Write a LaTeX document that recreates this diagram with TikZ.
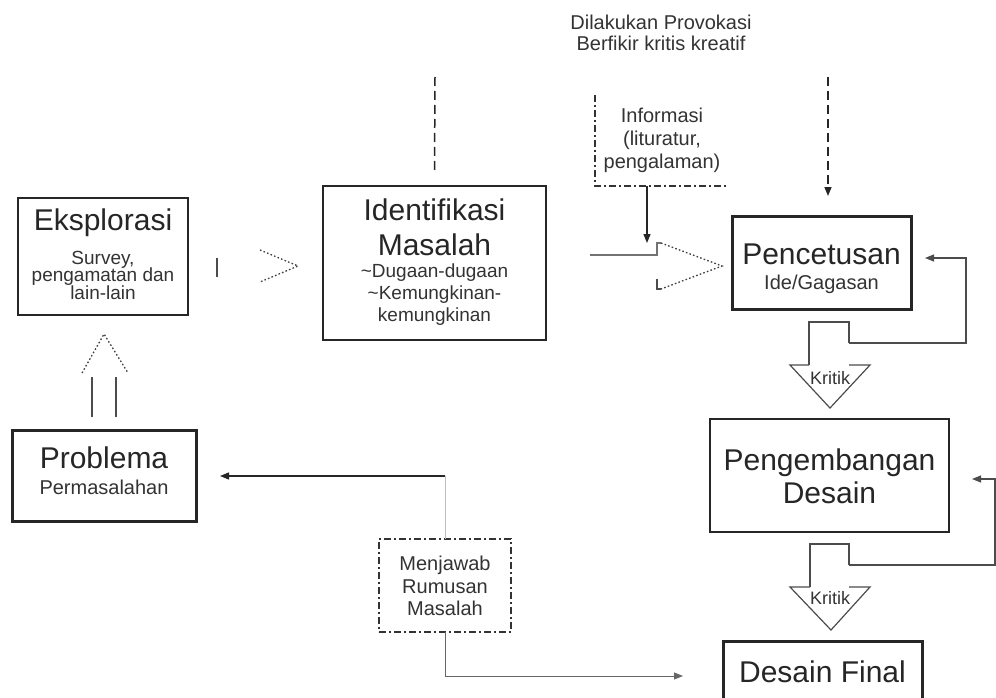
\documentclass[tikz,border=0pt]{standalone}
\usepackage{fontspec}
\setmainfont{Liberation Sans}
\usetikzlibrary{arrows.meta}
\newcommand\mytightls{\lineskiplimit -20pt\relax}
\begin{document}
\begin{tikzpicture}[x=1pt,y=-1pt,
 box/.style={draw=black!85, line width=2pt, inner sep=0pt, outer sep=0pt},
 boxthick/.style={box, line width=3pt},
 bigtxt/.style={font=\fontsize{30}{35}\selectfont\mytightls, inner sep=0pt, align=center, text=black!85},
 smalltxt/.style={font=\fontsize{19}{22}\selectfont\mytightls, inner sep=0pt, align=center, text=black!80},
 kritik/.style={font=\fontsize{18}{20}\selectfont, inner sep=0pt, text=black!80},
 conn/.style={draw=black!85, line width=1.3pt, -{Triangle[length=9pt,width=7pt]}},
 thinline/.style={draw=black!70, line width=1.2pt},
 faint/.style={draw=black!25, line width=1pt},
 dashline/.style={draw=black!85, line width=1.5pt, dash pattern=on 9pt off 5pt},
 dashdotline/.style={draw=black!80, line width=1.2pt, dash pattern=on 7pt off 3pt on 2pt off 3pt},
 dotline/.style={draw=black!75, line width=1.3pt, dash pattern=on 1.6pt off 2.2pt},
]
\clip (0,0) rectangle (996,698);
\fill[white] (0,0) rectangle (996,698);

% boxes
\node[box, minimum width=170pt, minimum height=117pt] (eks) at (103,256.5) {};
\node[bigtxt] (eksT) at (103,223) {Eksplorasi};
\node[smalltxt, font=\fontsize{19}{17.5}\selectfont\mytightls] (eksS) at (103,275) {Survey,\\pengamatan dan\\lain-lain};

\node[box, minimum width=223pt, minimum height=154pt] (ide) at (434.5,263) {};
\node[bigtxt] (ideT) at (434.5,227.5) {Identifikasi\\Masalah};
\node[smalltxt] (ideS) at (434.5,295) {\textasciitilde Dugaan-dugaan\\\textasciitilde Kemungkinan-\\kemungkinan};

\node[boxthick, minimum width=184pt, minimum height=91pt] (prob) at (104,475.5) {};
\node[bigtxt] (probT) at (104,458) {Problema};
\node[smalltxt, font=\fontsize{20}{22}\selectfont] (probS) at (104,487) {Permasalahan};

\node[boxthick, minimum width=179pt, minimum height=93pt] (pen) at (821.5,262.5) {};
\node[bigtxt] (penT) at (821.5,254) {Pencetusan};
\node[smalltxt, font=\fontsize{20}{22}\selectfont] (penS) at (821.5,284) {Ide/Gagasan};

\node[box, minimum width=239pt, minimum height=113pt] (peng) at (829.5,475.5) {};
\node[bigtxt, font=\fontsize{30}{33}\selectfont\mytightls] (pengT) at (829.5,476.5) {Pengembangan\\Desain};

\node[boxthick, minimum width=199pt, minimum height=70pt] (fin) at (822.5,676) {};
\node[bigtxt] (finT) at (822.5,672) {Desain Final};

\node[smalltxt, font=\fontsize{20}{21}\selectfont\mytightls] (prov) at (661,33) {Dilakukan Provokasi\\Berfikir kritis kreatif};

\node[inner sep=0pt, outer sep=0pt, minimum width=133pt, minimum height=91pt] (info) at (661.5,140.5) {};
\node[smalltxt, font=\fontsize{20}{23}\selectfont\mytightls] (infoT) at (662,140) {Informasi\\(lituratur,\\pengalaman)};
\draw[dashdotline] (info.north west) -- (info.south west) -- (info.south east);

\node[dashdotline, draw, inner sep=0pt, outer sep=0pt, minimum width=132pt, minimum height=93pt] (menj) at (445,585.5) {};
\node[smalltxt, font=\fontsize{20}{22.5}\selectfont\mytightls] (menjT) at (445,586) {Menjawab\\Rumusan\\Masalah};

% dashed lines from top
\coordinate (d1) at (435,77);
\draw[dashline] (d1) -- ([yshift=13pt]ide.north);
\coordinate (d2) at (828,77);
\coordinate (d2e) at (828,196);
\draw[dashline, -{Triangle[length=9pt,width=7pt]}] (d2) -- (d2e);

% informasi arrow
\draw[conn] ([xshift=-14.5pt]info.south) -- ++(0,57);

% block arrow eks -> ide
\draw[thinline] (217,258) -- (217,277);
\draw[dotline] (260,250) -- (298,266) -- (260,282);

% block arrow ide -> pen
\draw[thinline, draw=black!55] (590,255) -- (657,255) -- (657,243) -- (661,243);
\draw[dotline] (661,243) -- (722,266) -- (661,289);
\draw[thinline] (657,279) -- (657,289) -- (661,289);

% block arrow prob -> eks
\draw[thinline] (92,417) -- (92,377);
\draw[thinline] (116,417) -- (116,377);
\draw[dotline] (82,373) -- (104,334) -- (128,373);

% kritik 1
\draw[thinline] (809,365) -- (809,322) -- (849,322) -- (849,343);
\draw[thinline] (809,365) -- (790,365) -- (830,408) -- (870,365) -- (849,365);
\node[kritik] (kr1) at (830,378) {Kritik};
\coordinate (k1r) at (849,343);
\coordinate (fb1) at (925,258);
\draw[conn, line width=1.2pt, draw=black!70] (k1r) -- (966,343) -- (966,258) -- (fb1);

% kritik 2
\draw[thinline] (810,587) -- (810,544) -- (849,544) -- (849,565);
\draw[thinline] (810,587) -- (790,587) -- (831,630) -- (870,587) -- (849,587);
\node[kritik] (kr2) at (830,598) {Kritik};
\coordinate (k2r) at (849,565);
\coordinate (fb2) at (972,479);
\draw[conn, line width=1.2pt, draw=black!70] (k2r) -- (995,565) -- (995,479) -- (fb2);

% menjawab connectors
\coordinate (m1) at (445,476);
\draw[conn] (m1) -- ([xshift=24pt]prob.east |- m1);
\draw[faint] (m1) -- (menj.north);
\draw[conn, draw=black!60, line width=1pt] (menj.south) |- ([xshift=-40pt]fin.west);
\end{tikzpicture}
\end{document}
